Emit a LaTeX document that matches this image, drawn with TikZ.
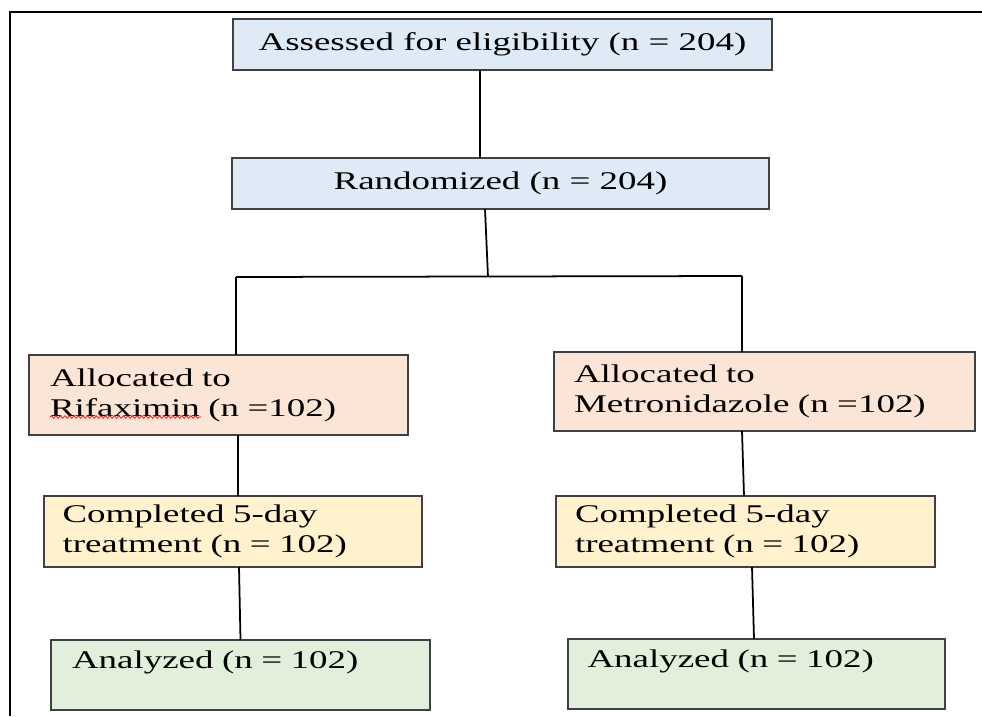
\documentclass[tikz,border=0pt]{standalone}
\usepackage{fontspec}
\setmainfont{Liberation Serif}[FakeStretch=1.45]
\usetikzlibrary{decorations.pathmorphing}
\definecolor{boxblue}{HTML}{DEEAF6}
\definecolor{boxpeach}{HTML}{FBE5D6}
\definecolor{boxyellow}{HTML}{FFF2CC}
\definecolor{boxgreen}{HTML}{E2EFDA}
\begin{document}
\begin{tikzpicture}[every node/.style={font=\fontsize{14.5pt}{17.1pt}\selectfont},
  flowbox/.style={draw=black!75,line width=0.85pt,inner ysep=2pt,outer sep=0pt},
  armbox/.style={flowbox,align=left,inner xsep=0.4cm,text width=6.76cm,minimum height=1.42cm},
  link/.style={line width=1pt}]
\useasboundingbox (0,0) rectangle (19.64,-14.32);
\draw[line width=1.1pt] (19.64,-0.24) -- (0.2,-0.24) -- (0.2,-14.32);
\node[flowbox,fill=boxblue,minimum width=10.78cm,minimum height=1.02cm] (assess) at (10.05,-0.89) {Assessed for eligibility (n = 204)};
\node[flowbox,fill=boxblue,minimum width=10.74cm,minimum height=1.02cm] (rand) at (10.01,-3.67) {Randomized (n = 204)};
\node[armbox,fill=boxpeach,inner xsep=0.42cm,text width=6.74cm,minimum height=1.6cm] (rifax) at (4.37,-7.90) {Allocated to\\Rifaximin (n =102)};
\node[armbox,fill=boxpeach,text width=7.62cm,minimum height=1.58cm] (metro) at (15.29,-7.83) {Allocated to\\Metronidazole (n =102)};
\node[armbox,fill=boxyellow,inner xsep=0.37cm,text width=6.82cm] (done-rifax) at (4.66,-10.63) {Completed 5-day\\treatment (n = 102)};
\node[armbox,fill=boxyellow,inner xsep=0.38cm,text width=6.82cm] (done-metro) at (14.91,-10.63) {Completed 5-day\\treatment (n = 102)};
\node[armbox,fill=boxgreen,inner xsep=0.42cm,text width=6.74cm,minimum height=1.4cm] (anal-rifax) at (4.81,-13.50) {Analyzed (n = 102)\\\mbox{}};
\node[armbox,fill=boxgreen,inner xsep=0.39cm,text width=6.76cm,minimum height=1.4cm] (anal-metro) at (15.13,-13.48) {Analyzed (n = 102)\\\mbox{}};
\draw[red,line width=0.4pt,decorate,decoration={snake,amplitude=0.025cm,segment length=0.09cm}] (1.0,-8.34) -- (4.02,-8.34);
\coordinate (split) at (9.76,-5.54);
\coordinate (split-l) at (4.72,-5.54);
\coordinate (split-r) at (14.84,-5.52);
\draw[link] ([xshift=-0.45cm]assess.south) -- ([xshift=-0.41cm]rand.north);
\draw[link] ([xshift=-0.31cm]rand.south) -- (split);
\draw[link] (split-l) -- (split-r);
\draw[link] (split-l) -- (split-l |- rifax.north);
\draw[link] (split-r) -- (split-r |- metro.north);
\draw[link] ([xshift=0.39cm]rifax.south) -- ([xshift=0.1cm]done-rifax.north);
\draw[link] ([xshift=0.12cm]done-rifax.south) -- (anal-rifax.north);
\draw[link] ([xshift=-0.45cm]metro.south) -- ([xshift=-0.03cm]done-metro.north);
\draw[link] ([xshift=0.13cm]done-metro.south) -- ([xshift=-0.05cm]anal-metro.north);
\end{tikzpicture}
\end{document}
